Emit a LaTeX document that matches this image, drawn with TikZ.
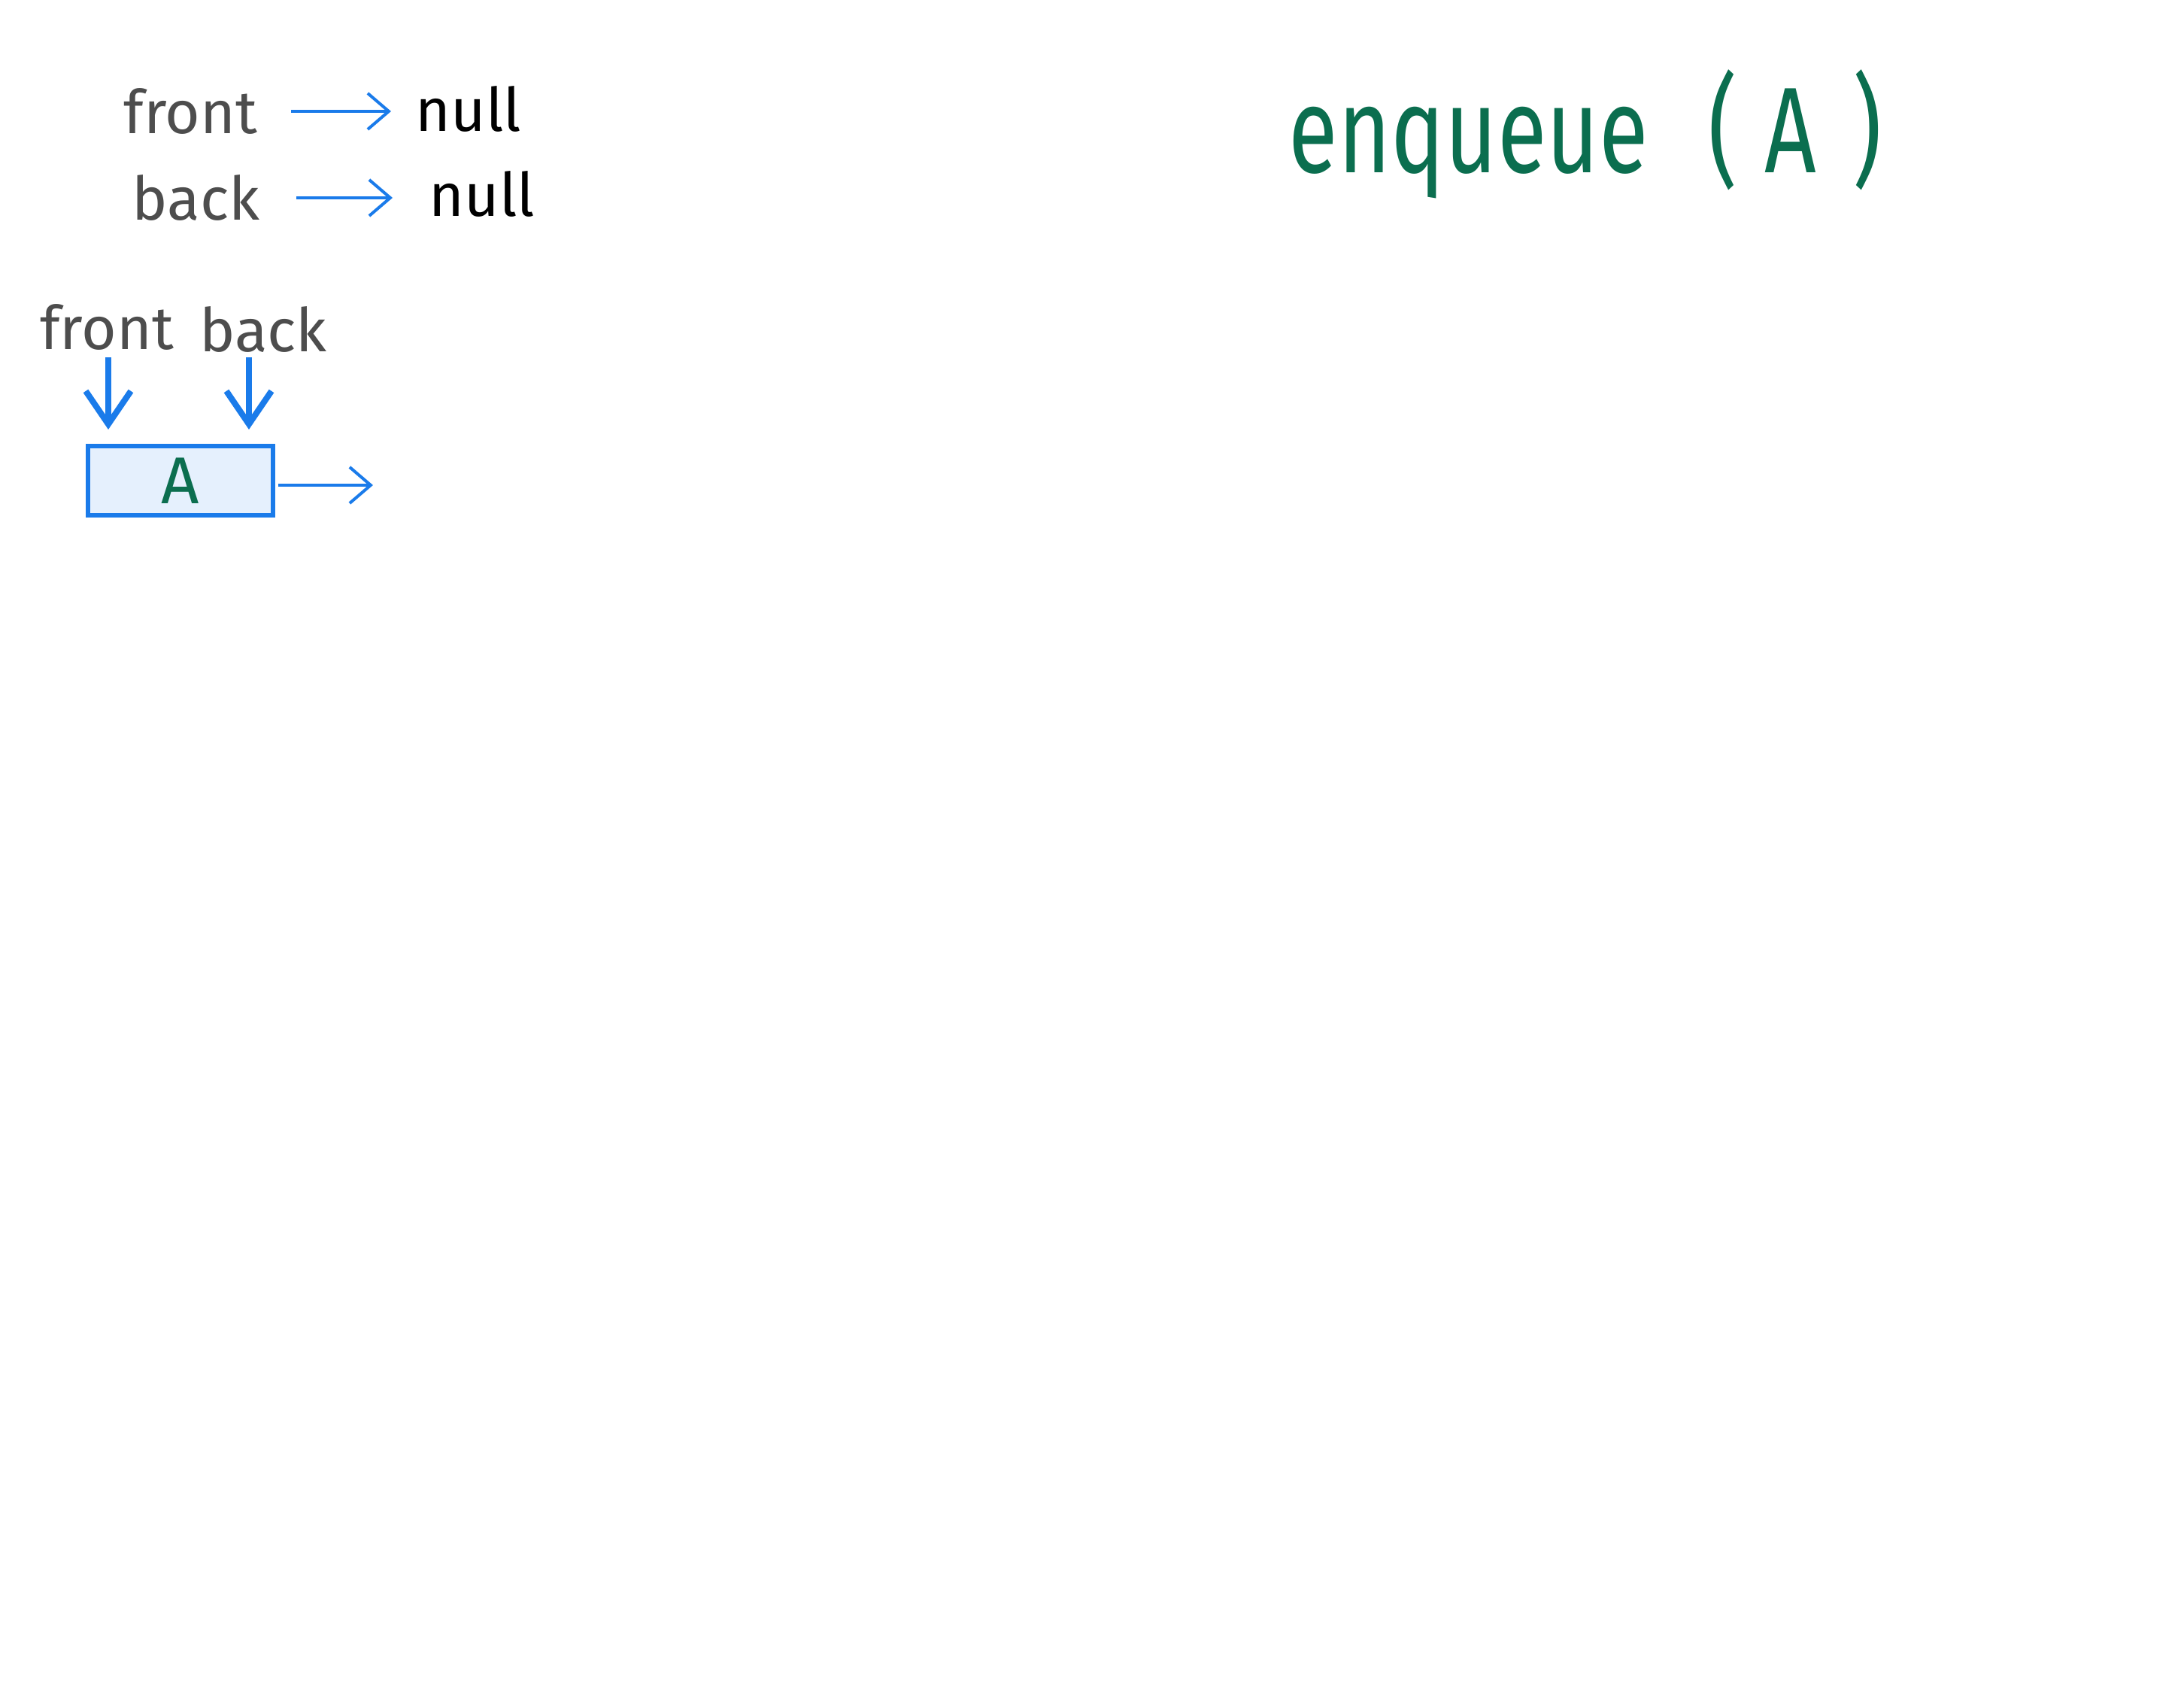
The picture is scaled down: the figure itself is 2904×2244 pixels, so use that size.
\documentclass[tikz,border=0pt]{standalone}
\usepackage{fontspec}
\setmainfont{Fira Sans}
\usetikzlibrary{arrows.meta}
\definecolor{arrowblue}{HTML}{1A7BEA}
\definecolor{boxfill}{HTML}{E5F0FD}
\definecolor{inkgreen}{HTML}{0B6E4F}
\definecolor{inkgray}{HTML}{4D4D4D}
\tikzset{
  lbl/.style={inner sep=0pt, text=inkgray, font=\fontsize{20}{24}\selectfont},
  nulllbl/.style={inner sep=0pt, text=black, font=\fontsize{20}{24}\selectfont},
  thinarrow/.style={draw=arrowblue, line width=1pt, -{Straight Barb[length=7pt,width=12pt,line width=1pt]}},
  ptrarrow/.style={draw=arrowblue, line width=2pt, -{Straight Barb[length=11pt,width=15pt,line width=2pt]}},
  nodebox/.style={draw=arrowblue, line width=1.5pt, fill=boxfill, minimum width=61.5pt, minimum height=23pt, inner sep=0pt, text=inkgreen, font=\fontsize{22}{26}\selectfont}
}
\begin{document}
\begin{tikzpicture}[x=0.25pt, y=-0.25pt]
\useasboundingbox (0,0) rectangle (2904,2244);
% top state
\node[lbl, anchor=east] (f1) at (343,148) {front};
\node[nulllbl, anchor=west] (n1) at (552,145) {null};
\node[lbl, anchor=east] (b1) at (346,263) {back};
\node[nulllbl, anchor=west] (n2) at (570,258) {null};
\draw[thinarrow, shorten <=11pt, shorten >=8pt] (f1.east) -- (n1.west |- f1.east);
\draw[thinarrow, shorten <=12pt, shorten >=12pt] (b1.east) -- (n2.west |- b1.east);
% title
\node[inner sep=0pt, text=inkgreen, font=\fontsize{30}{36}\selectfont, yscale=1.35, anchor=west] (title) at (1713,178) {enqueue\hspace{20pt}(\hspace{9pt}A\hspace{12pt})};
% queue with one node
\node[lbl] (f2) at (142,435) {front};
\node[lbl] (b2) at (350,438) {back};
\node[nodebox] (nA) at (240,639) {A};
\coordinate (nextend) at (496,645);
\draw[ptrarrow, shorten <=2.25pt, shorten >=4.75pt] ([xshift=0.5pt]f2.south) -- ([xshift=0.5pt]f2.south |- nA.north);
\draw[ptrarrow, shorten <=1.5pt, shorten >=4.75pt] ([xshift=-4.75pt]b2.south) -- ([xshift=-4.75pt]b2.south |- nA.north);
\draw[thinarrow, shorten <=1pt] ([yshift=-1.5pt]nA.east) -- (nextend);
\end{tikzpicture}
\end{document}
